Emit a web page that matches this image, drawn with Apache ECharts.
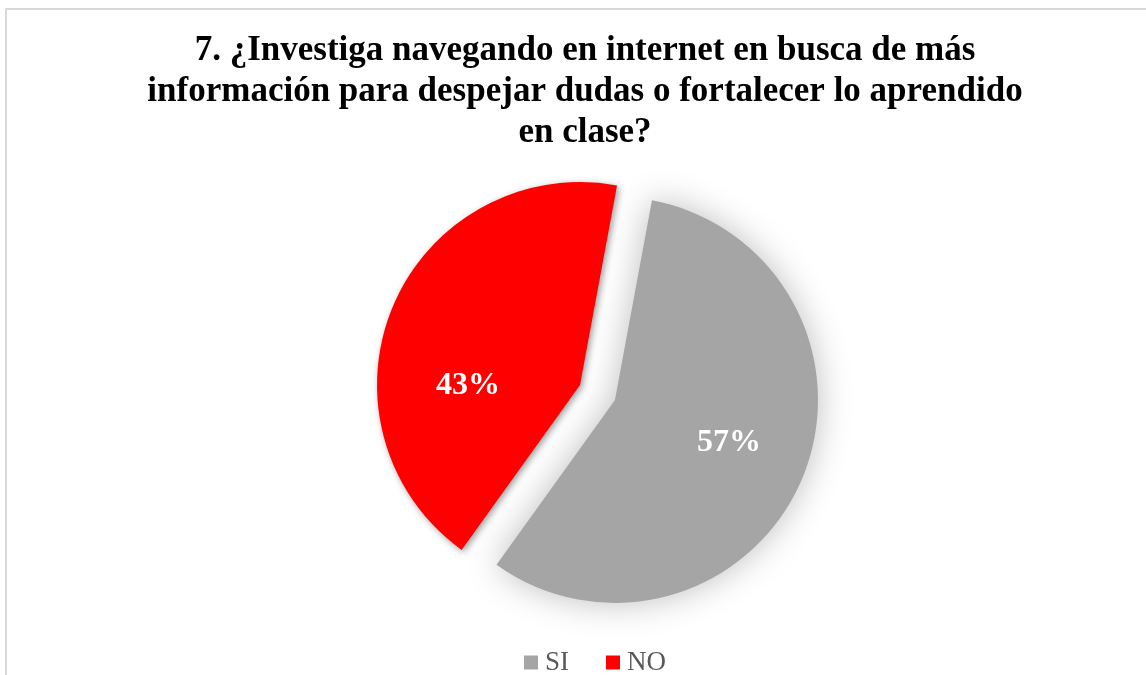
<!DOCTYPE html>
<html>
<head>
<meta charset="utf-8">
<script src="https://cdn.jsdelivr.net/npm/echarts@6/dist/echarts.min.js"></script>
<style>
  html, body { margin: 0; padding: 0; background: #ffffff; }
  #chart { width: 1146px; height: 675px; }
</style>
</head>
<body>
<div id="chart"></div>
<script>
const titleText = '7. ¿Investiga navegando en internet en busca de más\ninformación para despejar dudas o fortalecer lo aprendido\nen clase?';
const categories = ['SI', 'NO'];
const values = [57, 43];
const colors = ['#A5A5A5', '#FF0000'];
const labelShift = [[18, 2], [-16, 42]];

const chart = echarts.init(document.getElementById('chart'), null, { renderer: 'canvas' });

const data = categories.map((c, i) => ({
  name: c,
  value: values[i],
  selected: true,
  itemStyle: i === 0
    ? { color: colors[i], shadowBlur: 34, shadowColor: 'rgba(0,0,0,0.26)', shadowOffsetX: 0, shadowOffsetY: 0 }
    : { color: colors[i], shadowBlur: 7, shadowColor: 'rgba(0,0,0,0.4)', shadowOffsetX: 2, shadowOffsetY: 2 }
}));

chart.setOption({
  animation: false,
  backgroundColor: '#ffffff',
  graphic: [{
    type: 'rect',
    shape: { x: 6, y: 9, width: 1160, height: 700 },
    style: { fill: 'none', stroke: '#D9D9D9', lineWidth: 2 },
    silent: true,
    z: -10
  }],
  title: {
    text: titleText,
    left: 580,
    textAlign: 'center',
    top: 25,
    textStyle: {
      fontFamily: 'Liberation Serif',
      fontWeight: 'bold',
      fontSize: 35,
      lineHeight: 41,
      color: '#000000'
    }
  },
  legend: {
    data: categories,
    left: 519,
    top: 644,
    icon: 'rect',
    itemWidth: 14,
    itemHeight: 14,
    itemGap: 37,
    selectedMode: false,
    textStyle: {
      fontFamily: 'Liberation Serif',
      fontSize: 27,
      color: '#595959',
      padding: [0, 0, 0, 2]
    }
  },
  series: [{
    type: 'pie',
    center: [597.5, 392.5],
    radius: 203,
    startAngle: 79.5,
    clockwise: true,
    selectedMode: 'multiple',
    selectedOffset: 19,
    emphasis: { disabled: true },
    label: {
      show: true,
      position: 'inside',
      formatter: '{d}%',
      fontFamily: 'Liberation Serif',
      fontWeight: 'bold',
      fontSize: 32,
      color: '#ffffff'
    },
    labelLayout: function (p) {
      const s = labelShift[p.dataIndex];
      return { dx: s[0], dy: s[1] };
    },
    labelLine: { show: false },
    data: data
  }]
});
</script>
</body>
</html>
